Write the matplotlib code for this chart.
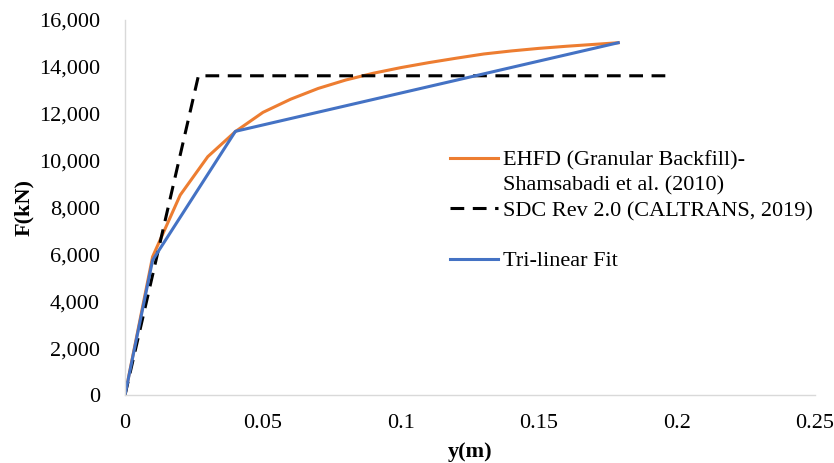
import matplotlib
matplotlib.use("Agg")
import matplotlib.pyplot as plt
from matplotlib.lines import Line2D
from matplotlib.ticker import FuncFormatter, FixedLocator

# Data
ehfd_y = [0.0, 0.01, 0.02, 0.03, 0.04, 0.05, 0.06, 0.07, 0.08, 0.09, 0.10,
          0.11, 0.12, 0.13, 0.14, 0.15, 0.16, 0.17, 0.1787]
ehfd_F = [0, 5900, 8530, 10170, 11240, 12060, 12620, 13080, 13440, 13730, 13970,
          14180, 14370, 14550, 14680, 14790, 14880, 14960, 15030]

sdc_y = [0.0, 0.0266, 0.197]
sdc_F = [0, 13620, 13620]

tri_y = [0.0, 0.01, 0.04, 0.1787]
tri_F = [0, 5750, 11250, 15030]

x_ticks = [0, 0.05, 0.1, 0.15, 0.2, 0.25]
x_tick_labels = ["0", "0.05", "0.1", "0.15", "0.2", "0.25"]
y_ticks = [0, 2000, 4000, 6000, 8000, 10000, 12000, 14000, 16000]

label_ehfd_1 = "EHFD (Granular Backfill)-"
label_ehfd_2 = "Shamsabadi et al. (2010)"
label_sdc = "SDC Rev 2.0 (CALTRANS, 2019)"
label_tri = "Tri-linear Fit"

plt.rcParams['font.family'] = ['Liberation Serif', 'DejaVu Serif']

FS = 16

fig = plt.figure(figsize=(8.34, 4.63), dpi=100)
ax = fig.add_axes([125/834, 1-395/463, 690/834, 375/463])

orange = "#ED7D31"
blue = "#4472C4"

l1, = ax.plot(ehfd_y, ehfd_F, color=orange, lw=2.2, solid_joinstyle='round')
l2, = ax.plot(sdc_y, sdc_F, color="black", lw=2.2, linestyle=(0, (4.5, 2.8)))
l3, = ax.plot(tri_y, tri_F, color=blue, lw=2.2, solid_joinstyle='round')

ax.set_xlim(0, 0.25)
ax.set_ylim(0, 16000)
ax.xaxis.set_major_locator(FixedLocator(x_ticks))
ax.set_xticklabels(x_tick_labels)
ax.yaxis.set_major_locator(FixedLocator(y_ticks))
ax.yaxis.set_major_formatter(FuncFormatter(lambda v, p: f"{int(v):,}"))

for s in ["top", "right"]:
    ax.spines[s].set_visible(False)
for s in ["left", "bottom"]:
    ax.spines[s].set_color("#D9D9D9")
    ax.spines[s].set_linewidth(1.0)

ax.tick_params(axis='both', length=0, labelsize=FS, colors="black")
ax.tick_params(axis='y', pad=18)
ax.tick_params(axis='x', pad=14)

ax.set_xlabel("y(m)", fontsize=FS, fontweight='bold')
ax.set_ylabel("F(kN)", fontsize=FS, fontweight='bold')
ax.xaxis.set_label_coords(0.5, -0.125)
ax.yaxis.set_label_coords(-0.132, 0.5)

blank = Line2D([], [], color='none')
leg = ax.legend([l1, blank, l2, blank, l3],
                [label_ehfd_1, label_ehfd_2, label_sdc, " ", label_tri],
                loc='upper left', bbox_to_anchor=((450-125)/690, (395-150)/375),
                frameon=False, fontsize=FS, handlelength=2.16,
                handletextpad=0.22, labelspacing=0.21, borderpad=0, borderaxespad=0)

fig.savefig("out.png", dpi=100)
